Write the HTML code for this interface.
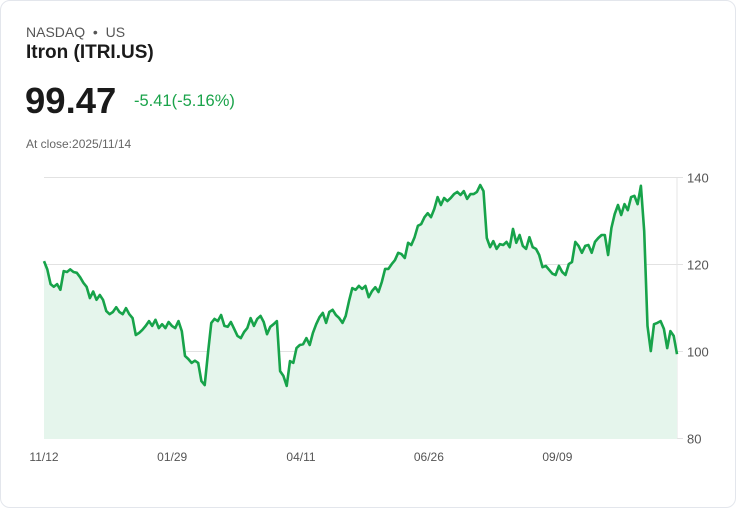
<!DOCTYPE html>
<html><head><meta charset="utf-8">
<style>
body{margin:0;width:736px;height:508px;background:#fff;font-family:"Liberation Sans",Arial,sans-serif;overflow:hidden}
.card{position:absolute;left:0;top:0;width:734px;height:506px;border:1px solid #e3e6ec;border-radius:10px;background:#fff}
.t{position:absolute;white-space:nowrap}
</style></head><body>
<div class="card">
<div class="t" style="left:25px;top:23px;font-size:14px;color:#555">NASDAQ &nbsp;•&nbsp; US</div>
<div class="t" style="left:25px;top:41px;font-size:19px;font-weight:bold;color:#1a1a1a">Itron (ITRI.US)</div>
<div class="t" style="left:24px;top:79px;font-size:36.5px;font-weight:bold;color:#1a1a1a">99.47</div>
<div class="t" style="left:133px;top:91px;font-size:16.5px;color:#1aa34a">-5.41(-5.16%)</div>
<div class="t" style="left:25px;top:136px;font-size:12px;color:#666">At close:2025/11/14</div>
<svg id="chart" width="736" height="508" style="position:absolute;left:0;top:0"></svg>
</div>
<script>
const values=[120.9,119,115.6,115,115.6,114.3,118.6,118.4,119,118.4,118.2,117.2,115.9,115,112.4,113.9,112,113.1,112,109.4,108.7,109.2,110.3,109.2,108.7,110.1,108.7,107.8,103.9,104.4,105.1,106,107.1,106,107.4,105.5,106.4,105.5,106.9,106,105.5,107.1,104.8,99.1,98.4,97.5,98,97.5,93.3,92.4,99.8,106.7,107.6,107.1,108.5,106,105.8,106.9,105.3,103.7,103.2,104.6,105.5,107.8,106,107.6,108.3,106.9,104.1,105.8,106.4,107.1,95.6,94.5,92.2,97.9,97.5,100.9,101.6,101.8,103.2,101.6,104.4,106.4,108,109,106.7,109.2,109.7,108.5,107.8,106.7,108.3,111.7,114.7,114.3,115.2,114.5,115.2,112.6,114,114.9,113.8,116.1,119.1,119.1,120.2,121.1,122.8,122.5,121.6,125.1,124.6,126.4,129,129.4,131,131.9,131,132.9,135.6,133.8,135.4,134.7,135.4,136.3,136.8,136.1,137,135.2,136.3,136.3,136.8,138.4,137,126.2,124.1,125.5,123.7,124.8,124.6,125.3,124.1,128.3,125.1,126.9,124.4,123.7,126.4,124.1,123.7,122.3,119.5,119.8,118.9,118,117.7,119.8,118.4,117.7,120.2,120.7,125.3,124.4,122.8,124.4,124.6,122.8,125.3,126.2,126.9,126.9,122.3,128.5,131.7,133.8,131.5,134,132.6,135.6,135.9,134,138.2,127.8,106,100.2,106.4,106.7,107.1,105.3,100.9,104.8,103.7,99.5];
const yTicks=[80,100,120,140];
const xLabels=["11/12","01/29","04/11","06/26","09/09"];
const xLabelFrac=[0,0.2025,0.406,0.608,0.811];
const svg=document.getElementById('chart');
const NS='http://www.w3.org/2000/svg';
const X0=43,X1=676,Y0=438,Y1=177,VMIN=80,VMAX=140;
function xs(i){return X0+i*(X1-X0)/(values.length-1);}
function ys(v){return Y0-(v-VMIN)*(Y0-Y1)/(VMAX-VMIN);}
function mk(tag,attrs){const e=document.createElementNS(NS,tag);for(const k in attrs)e.setAttribute(k,attrs[k]);svg.appendChild(e);return e;}
yTicks.forEach(t=>{
 const l=mk('line',{x1:X0,x2:X1+6,y1:ys(t)-0.5,y2:ys(t)-0.5,stroke:'#e2e2e2','stroke-width':1});
 
 
 const tx=mk('text',{x:686,y:ys(t)+4.5,'font-size':13,fill:'#555','font-family':'Liberation Sans, sans-serif'});
 tx.textContent=t;
 
 
});
const ax=mk('line',{x1:X1,x2:X1,y1:Y1,y2:Y0,stroke:'#e6e6e6','stroke-width':1});


let d='';values.forEach((v,i)=>{d+=(i?'L':'M')+xs(i).toFixed(1)+' '+ys(v).toFixed(1);});
const area=mk('path',{d:d+'L'+X1+' '+Y0+'L'+X0+' '+Y0+'Z',fill:'#e5f5ec'});


const line=mk('path',{d:d,fill:'none',stroke:'#17a34a','stroke-width':2.6,'stroke-linejoin':'round'});


xLabels.forEach((s,i)=>{
 const tx=mk('text',{x:X0+xLabelFrac[i]*(X1-X0),y:460,'font-size':12,fill:'#555','text-anchor':'middle','font-family':'Liberation Sans, sans-serif'});
 tx.textContent=s;
 
 
});
</script>
</body></html>
